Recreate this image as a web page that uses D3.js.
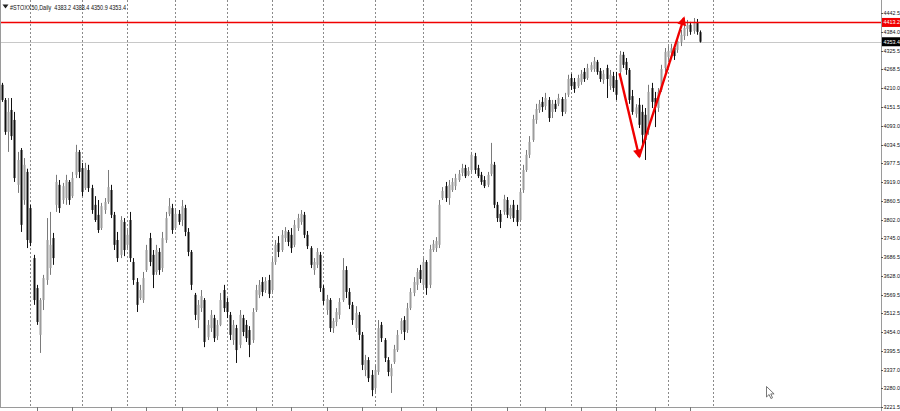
<!DOCTYPE html>
<html><head><meta charset="utf-8">
<script src="https://cdn.jsdelivr.net/npm/d3@7"></script>
<style>body{margin:0;background:#fff;overflow:hidden}svg{display:block}</style>
</head><body><svg id="c" width="900" height="411"></svg>
<script>
const symbol = "#STOXX50,Daily";
const openP = [4220,4173,4074,4142,4111,3910,4018,3863,3950,3838,3683,3590,3445,3553,3615,3652,3745,3848,3910,3863,3869,3919,3875,3941,
4012,3962,3900,3956,3900,3848,3817,3776,3832,3857,3894,3817,3739,3693,3795,3724,3801,3671,3609,3559,3553,3646,3745,3693,3640,3702,3652,3739,3820,3838,3776,3820,3801,3838,
3764,3702,3569,3491,3528,3553,3438,3466,3497,3441,3476,3584,3547,3507,3429,3466,3414,3497,3476,3460,3429,3522,3569,3609,3584,3615,3584,3671,3730,3708,3745,3764,3755,3724,3776,3795,3817,3755,3714,3646,3662,3693,3590,3522,3553,3466,3485,3507,3553,3646,3578,3538,3466,3507,3445,
3336,3367,3321,3280,3330,3476,3429,3367,3317,3361,3398,3460,3491,3460,3528,3575,3600,3646,3600,3671,3600,3708,3714,3724,3869,3906,3869,3894,3906,3925,3947,3962,3941,3956,3999,3962,3941,3925,3910,3944,3972,3848,3820,3826,3863,3813,3848,3832,3801,3894,3956,4003,
4049,4111,4142,4167,4154,4173,4136,4161,4161,4176,4136,4189,4241,4229,4216,4229,4260,4241,4266,4269,4291,4263,4235,4272,4216,4247,4235,4260,4313,4291,4266,4185,4130,4158,4136,4127,4080,4210,4179,4148,4204,4272,4306,4319,4334,4328,4353,4371,4393,4406,4387,4412,4383.2];
const highP = [4226,4179,4179,4179,4136,4012,4024,3993,3960,3848,3693,3600,3559,3631,3807,3826,3761,3941,3925,3916,3941,3925,3950,4034,
4018,3978,3978,3972,3910,3875,3863,3854,3869,3956,3910,3826,3764,3813,3807,3770,3826,3683,3621,3600,3640,3724,3761,3708,3724,3714,3764,3826,3869,3851,3838,3832,3863,3848,
3776,3708,3575,3553,3584,3559,3491,3522,3507,3491,3575,3600,3559,3516,3491,3476,3522,3507,3491,3472,3528,3600,3615,3624,3624,3631,3683,3739,3751,3770,3779,3770,3776,3801,3820,3832,3826,3767,3720,3683,3714,3702,3600,3569,3559,3497,3528,3559,3683,3658,3590,3547,3534,3516,3454,
3383,3376,3336,3352,3491,3485,3435,3376,3355,3414,3460,3497,3503,3544,3590,3624,3652,3662,3683,3677,3724,3739,3748,3863,3903,3919,3925,3931,3944,3956,3975,3972,3965,4012,4009,3972,3950,3937,3950,4040,3981,3857,3832,3879,3872,3848,3863,3848,3900,3972,4018,4061,
4127,4161,4173,4182,4195,4182,4173,4173,4192,4182,4195,4251,4254,4241,4251,4266,4272,4285,4290,4306,4297,4272,4266,4282,4266,4260,4260,4325,4322,4303,4272,4204,4160,4179,4158,4148,4220,4226,4198,4210,4282,4334,4340,4347,4344,4368,4390,4409,4421,4415,4427,4424,4388.4];
const lowP = [4167,4065,4012,4049,3919,3885,3764,3848,3714,3720,3538,3476,3389,3522,3600,3631,3662,3826,3823,3851,3848,3848,3869,3931,
3931,3875,3894,3888,3820,3795,3761,3770,3820,3851,3807,3708,3671,3683,3689,3714,3671,3600,3516,3553,3544,3640,3658,3590,3631,3631,3640,3730,3813,3758,3770,3786,3782,3751,
3689,3584,3491,3466,3516,3407,3429,3454,3423,3429,3472,3516,3497,3429,3414,3358,3404,3441,3423,3376,3420,3516,3559,3565,3575,3559,3578,3662,3686,3702,3733,3720,3699,3717,3767,3786,3745,3711,3652,3631,3652,3578,3538,3507,3454,3451,3472,3494,3547,3559,3525,3476,3454,3429,3336,
3317,3299,3255,3268,3321,3423,3361,3317,3265,3355,3392,3448,3429,3451,3522,3565,3584,3606,3584,3569,3590,3702,3702,3714,3863,3857,3848,3888,3894,3919,3937,3931,3937,3950,3944,3931,3910,3900,3903,3937,3838,3795,3776,3817,3807,3804,3795,3782,3795,3885,3950,3993,
4043,4099,4133,4136,4142,4105,4117,4136,4154,4123,4130,4182,4204,4195,4210,4220,4229,4235,4260,4260,4251,4229,4223,4179,4204,4198,4173,4251,4272,4251,4161,4127,4118,4086,4034,3987,4065,4148,4089,4136,4198,4260,4297,4306,4297,4319,4340,4359,4371,4375,4378,4375,4350.9];
const closeP = [4173,4074,4136,4061,3931,3987,3786,3972,3739,3730,3553,3485,3553,3621,3739,3724,3683,3919,3838,3906,3925,3863,3931,4012,
3950,3888,3962,3900,3832,3801,3770,3844,3857,3903,3817,3724,3683,3801,3708,3755,3683,3615,3538,3584,3621,3708,3671,3631,3708,3646,3745,3807,3844,3770,3820,3795,3844,3764,
3702,3600,3507,3538,3565,3423,3476,3507,3435,3476,3553,3528,3516,3445,3476,3398,3507,3454,3435,3414,3516,3584,3600,3578,3612,3572,3671,3724,3702,3755,3767,3733,3714,3786,3807,3820,3755,3720,3662,3671,3702,3590,3550,3556,3466,3488,3516,3547,3646,3578,3538,3491,3513,3445,3352,
3367,3311,3274,3336,3466,3435,3373,3330,3342,3401,3445,3488,3454,3528,3578,3609,3640,3618,3671,3590,3711,3727,3736,3848,3891,3869,3910,3919,3931,3944,3962,3937,3953,4003,3956,3937,3919,3906,3941,3975,3848,3807,3795,3866,3817,3838,3807,3795,3888,3956,4003,4043,
4114,4145,4161,4151,4179,4117,4161,4145,4179,4136,4176,4238,4216,4207,4241,4254,4238,4272,4281,4294,4260,4238,4254,4238,4251,4210,4189,4313,4282,4266,4173,4136,4150,4096,4065,4049,4198,4167,4154,4198,4269,4322,4325,4334,4309,4356,4375,4396,4406,4384,4415,4384,4353.4];
const priceTicks = [4442.5,4384.0,4325.5,4268.5,4210.0,4151.5,4093.0,4034.5,3977.5,3919.0,3860.5,3802.0,3745.0,3686.5,3628.0,3569.5,3512.5,3454.0,3395.5,3337.0,3280.0,3221.5];
const monthStarts = [9,25,39,54,70,84,100,116,131,146,161,177,191,207,221];
const timeTicks = [11,22,34,45,56,67,79,90,101,112,124,135,146,157,169,180,191,203,214];
const levelLine = 4413.2;
const arrowPts = [{i:192,p:4256},{i:198.1,p:3997},{i:212,p:4427}];

const svg = d3.select("#c");
const plotR = 881, plotB = 407;
const n = closeP.length;
const x = d3.scaleLinear().domain([0, n - 1]).range([1.5, 700]);
const y = d3.scaleLinear().domain([3221.5, 4442.5]).range([407, 13]);
const font = "'Liberation Sans', Arial, sans-serif";

svg.append("rect").attr("width", 900).attr("height", 411).attr("fill", "#fff");

// month separators
svg.append("g").selectAll("line").data(monthStarts).join("line")
  .attr("x1", d => Math.round(x(d)) + 0.5).attr("x2", d => Math.round(x(d)) + 0.5)
  .attr("y1", 0).attr("y2", plotB)
  .attr("stroke", "#8a8a8a").attr("stroke-width", 1).attr("stroke-dasharray", "2,2");

// bid line
svg.append("line").attr("x1", 0).attr("x2", plotR).attr("y1", Math.round(y(closeP[n-1])) + 0.5).attr("y2", Math.round(y(closeP[n-1])) + 0.5)
  .attr("stroke", "#c8c8c8").attr("stroke-width", 1);

// candles
const idx = d3.range(n);
const bull = i => closeP[i] >= openP[i];
const g = svg.append("g");
g.selectAll("line.w").data(idx).join("line").attr("class", "w")
  .attr("x1", i => Math.round(x(i)) + 0.5).attr("x2", i => Math.round(x(i)) + 0.5)
  .attr("y1", i => y(highP[i])).attr("y2", i => y(lowP[i]))
  .attr("stroke", i => bull(i) ? "#7a7a7a" : "#111").attr("stroke-width", 1);
g.selectAll("rect.b").data(idx).join("rect").attr("class", "b")
  .attr("x", i => Math.round(x(i)) - 0.5).attr("width", 2)
  .attr("y", i => y(Math.max(openP[i], closeP[i])))
  .attr("height", i => Math.max(1, Math.abs(y(openP[i]) - y(closeP[i]))))
  .attr("fill", i => bull(i) ? "#9c9c9c" : "#111");

// horizontal level
svg.append("line").attr("x1", 0).attr("x2", plotR).attr("y1", y(levelLine)).attr("y2", y(levelLine))
  .attr("stroke", "#f00000").attr("stroke-width", 1.4);

// red arrows
const defs = svg.append("defs");
defs.append("marker").attr("id", "ah").attr("viewBox", "0 0 10 10").attr("refX", 8).attr("refY", 5)
  .attr("markerWidth", 10).attr("markerHeight", 9).attr("markerUnits", "userSpaceOnUse").attr("orient", "auto")
  .append("path").attr("d", "M0,0 L10,5 L0,10 Z").attr("fill", "#f00000");
const ln = d3.line().x(d => x(d.i)).y(d => y(d.p));
[[arrowPts[0], arrowPts[1]], [arrowPts[1], arrowPts[2]]].forEach(seg => {
  svg.append("path").attr("d", ln(seg)).attr("fill", "none").attr("stroke", "#f00000")
    .attr("stroke-width", 2.4).attr("marker-end", "url(#ah)");
});

// frame
svg.append("line").attr("x1", 0.5).attr("x2", 0.5).attr("y1", 0).attr("y2", plotB).attr("stroke", "#9a9a9a");
svg.append("line").attr("x1", 0).attr("x2", plotR + 1).attr("y1", plotB + 0.5).attr("y2", plotB + 0.5).attr("stroke", "#9a9a9a");
svg.append("line").attr("x1", plotR + 0.5).attr("x2", plotR + 0.5).attr("y1", 0).attr("y2", 411).attr("stroke", "#9a9a9a");

// time ticks
svg.append("g").selectAll("line").data(timeTicks).join("line")
  .attr("x1", d => Math.round(x(d)) + 0.5).attr("x2", d => Math.round(x(d)) + 0.5)
  .attr("y1", plotB).attr("y2", 411).attr("stroke", "#777");

// price axis
const pa = svg.append("g");
pa.selectAll("line").data(priceTicks).join("line")
  .attr("x1", plotR).attr("x2", plotR + 2).attr("y1", d => Math.round(y(d)) + 0.5).attr("y2", d => Math.round(y(d)) + 0.5)
  .attr("stroke", "#555");
pa.selectAll("text").data(priceTicks).join("text")
  .attr("x", plotR + 2.5).attr("y", d => Math.min(y(d) + 2, 409.5))
  .attr("font-family", font).attr("font-size", 5.4).attr("fill", "#111")
  .text(d => d.toFixed(1));

function tag(val, bg) {
  const yy = y(val);
  svg.append("rect").attr("x", plotR + 1).attr("y", yy - 4.5).attr("width", 19).attr("height", 9).attr("fill", bg);
  svg.append("text").attr("x", plotR + 2.5).attr("y", yy + 2).attr("font-family", font).attr("font-size", 5.4)
    .attr("fill", "#fff").text(val.toFixed(1));
}
tag(levelLine, "#f00000");
tag(closeP[n-1], "#000");

// title
svg.append("path").attr("d", "M2.5,4.5 L8.5,4.5 L5.5,8.5 Z").attr("fill", "#222");
svg.append("text").attr("x", 10).attr("y", 9.5).attr("font-family", font).attr("font-size", 6.5).attr("fill", "#111")
  .style("white-space", "pre").attr("textLength", 116).attr("lengthAdjust", "spacingAndGlyphs")
  .text(`${symbol}  ${openP[n-1].toFixed(1)} ${highP[n-1].toFixed(1)} ${lowP[n-1].toFixed(1)} ${closeP[n-1].toFixed(1)}`);

// mouse cursor
svg.append("path").attr("transform", "translate(766.5,386.5)")
  .attr("d", "M0,0 L0,10.5 L2.6,8 L4.4,12 L6,11.3 L4.3,7.4 L7.6,7.4 Z")
  .attr("fill", "#fff").attr("stroke", "#555").attr("stroke-width", 0.8);
</script></body></html>
